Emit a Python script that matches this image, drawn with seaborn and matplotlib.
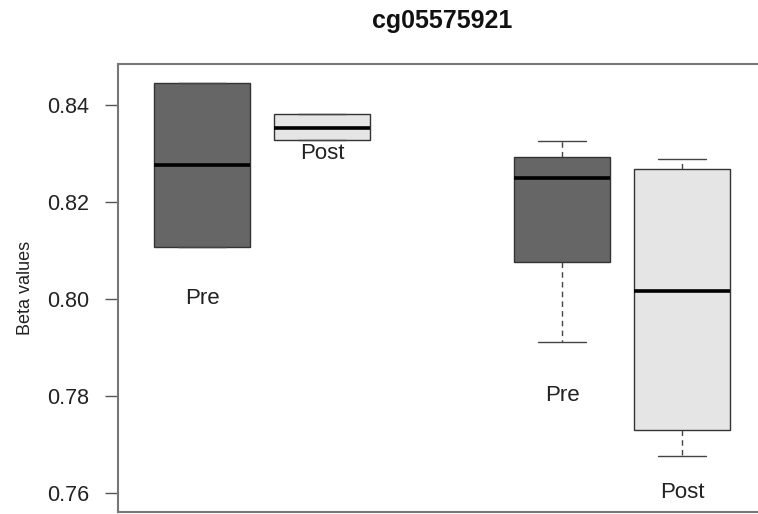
import matplotlib
matplotlib.use("Agg")
import matplotlib.pyplot as plt
import seaborn as sns
import pandas as pd

# ---- data ----
title = "cg05575921"
ylabel = "Beta values"
positions = [1, 2, 4, 5]
conditions = ["Pre", "Post", "Pre", "Post"]
box_pre_1 = [0.8107, 0.8107, 0.8276, 0.8445, 0.8445]
box_post_1 = [0.8328, 0.8328, 0.8353, 0.8381, 0.8381]
box_pre_2 = [0.7912, 0.8076, 0.8250, 0.8293, 0.8325]
box_post_2 = [0.7676, 0.7730, 0.8016, 0.8268, 0.8288]
label_y = [0.800, 0.830, 0.780, 0.760]
yticks = [0.76, 0.78, 0.80, 0.82, 0.84]
ytick_labels = ["0.76", "0.78", "0.80", "0.82", "0.84"]
palette = {"Pre": "#666666", "Post": "#e5e5e5"}

boxes = [box_pre_1, box_post_1, box_pre_2, box_post_2]
rows = []
for pos, cond, vals in zip(positions, conditions, boxes):
    for v in vals:
        rows.append({"pos": pos, "cond": cond, "value": v})
df = pd.DataFrame(rows)

sns.set_style("white")
plt.rcParams["font.family"] = ["Liberation Sans", "DejaVu Sans"]

fig = plt.figure(figsize=(7.58, 5.14), dpi=100)
ax = fig.add_axes([0.1557, 0.0039, 0.8555, 0.8716])

sns.boxplot(
    data=df, x="pos", y="value", hue="cond", native_scale=True,
    palette=palette, width=0.8, dodge=False, legend=False,
    linecolor="#333333", linewidth=1.0, whis=1.5,
    whiskerprops=dict(linestyle=(0, (4, 3)), color="#444444"),
    capprops=dict(color="#444444"),
    medianprops=dict(color="black", linewidth=2.6),
    ax=ax,
)

for pos, cond, yv in zip(positions, conditions, label_y):
    ax.text(pos, yv, cond, ha="center", va="center", fontsize=16, color="#222222")

ax.set_xlim(0.3, 5.7)
ax.set_ylim(0.75608, 0.84845)
ax.set_xticks([])
ax.set_xlabel("")
ax.set_yticks(yticks)
ax.set_yticklabels(ytick_labels)
ax.tick_params(axis="y", direction="out", length=9.5, width=1.0, color="#555555",
               pad=11, labelsize=15.5, labelcolor="#222222", left=True)
ax.set_ylabel(ylabel, fontsize=13, labelpad=10, color="#222222")
ax.set_title(title, fontsize=18, fontweight="bold", pad=26, color="#111111")

for side in ["top", "bottom", "left", "right"]:
    ax.spines[side].set_color("#777777")
    ax.spines[side].set_linewidth(1.5)

fig.savefig("out.png", dpi=100)
